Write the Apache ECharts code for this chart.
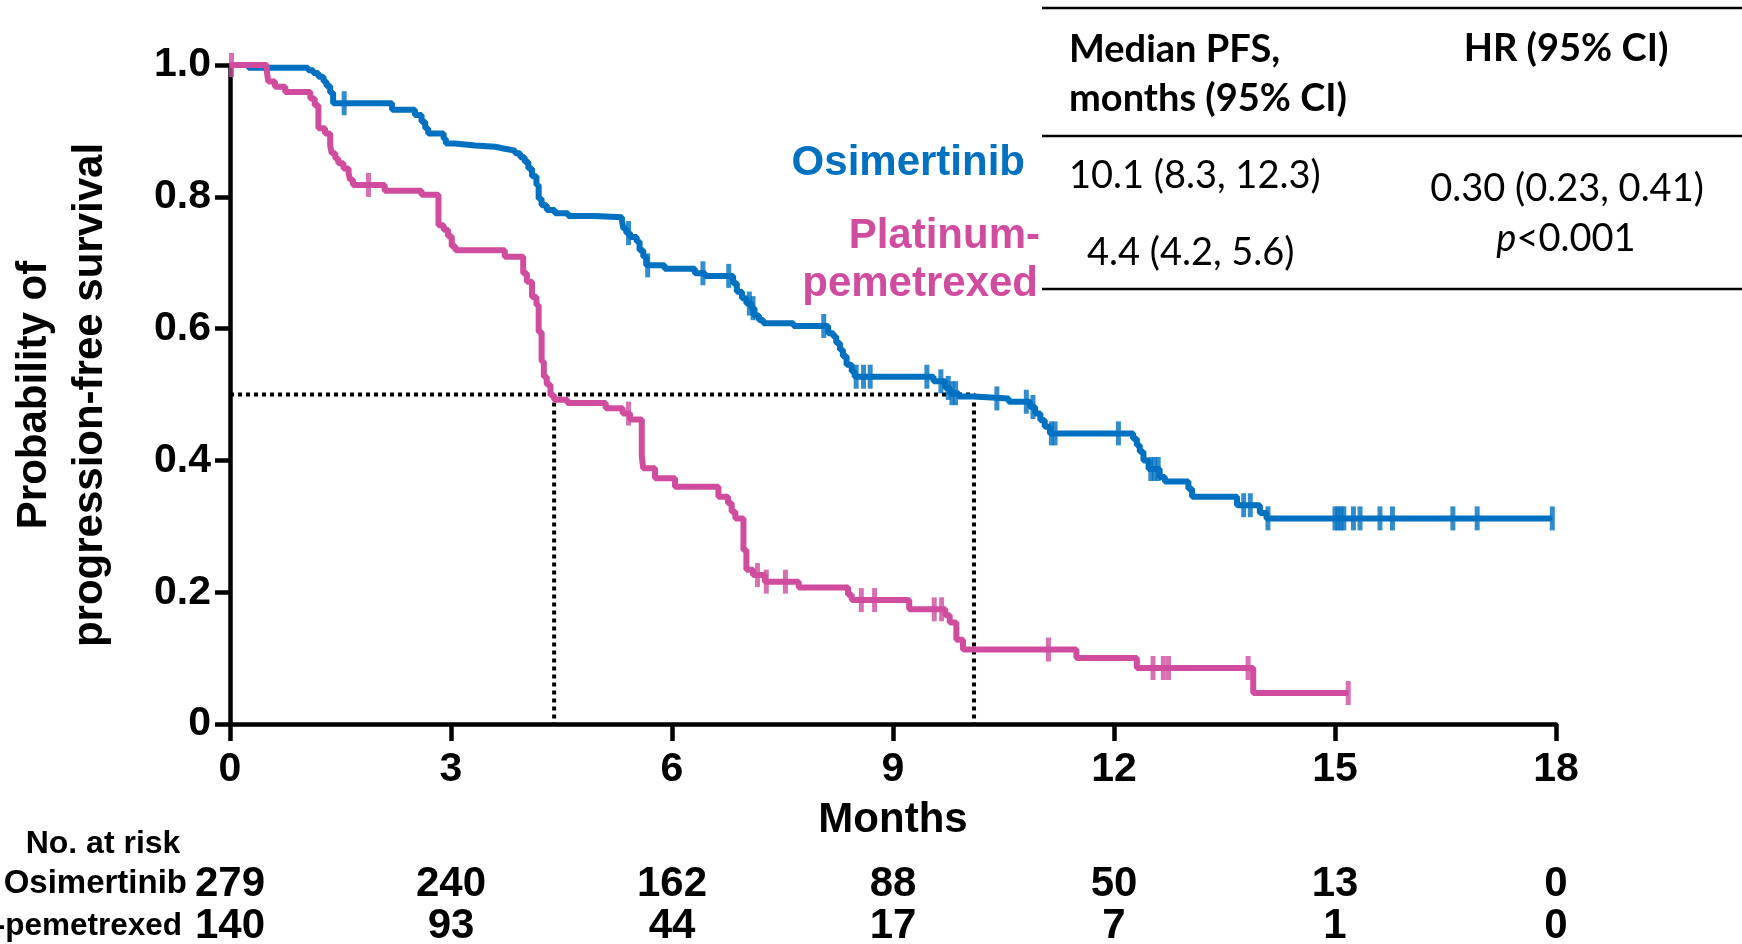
<!DOCTYPE html>
<html>
<head>
<meta charset="utf-8">
<title>Progression-free survival</title>
<script src="https://cdn.jsdelivr.net/npm/echarts@6/dist/echarts.min.js"></script>
<style>
  html, body { margin: 0; padding: 0; background: #fff; }
  #chart { width: 1742px; height: 944px; }
</style>
</head>
<body>
<div id="chart"></div>
<script>
// Kaplan-Meier step points [months, survival probability]
const osimertinibSteps = [
  [0, 1.0], [0.25, 0.996], [1.06, 0.992], [1.13, 0.988], [1.20, 0.982], [1.27, 0.975],
  [1.31, 0.968], [1.36, 0.958], [1.40, 0.942], [2.20, 0.932], [2.51, 0.924], [2.60, 0.914],
  [2.65, 0.904], [2.69, 0.896], [2.90, 0.888], [2.93, 0.881], [3.05, 0.878], [3.33, 0.876],
  [3.60, 0.873], [3.73, 0.870], [3.87, 0.866], [3.94, 0.860], [4.00, 0.853], [4.05, 0.843],
  [4.10, 0.831], [4.16, 0.818], [4.19, 0.797], [4.23, 0.787], [4.30, 0.780], [4.41, 0.775],
  [4.59, 0.771], [4.95, 0.769], [5.32, 0.764], [5.34, 0.752], [5.38, 0.745], [5.43, 0.739],
  [5.52, 0.732], [5.56, 0.719], [5.61, 0.709], [5.65, 0.696], [5.90, 0.691], [6.31, 0.684],
  [6.45, 0.680], [6.83, 0.669], [6.88, 0.656], [6.95, 0.646], [7.01, 0.638], [7.08, 0.631],
  [7.12, 0.620], [7.18, 0.613], [7.24, 0.608], [7.65, 0.604], [8.12, 0.593], [8.19, 0.588],
  [8.23, 0.578], [8.28, 0.568], [8.32, 0.558], [8.37, 0.545], [8.44, 0.535], [8.48, 0.527],
  [9.55, 0.520], [9.71, 0.510], [9.77, 0.502], [9.89, 0.497], [10.09, 0.494], [10.57, 0.489],
  [10.86, 0.481], [10.93, 0.471], [11.00, 0.461], [11.06, 0.451], [11.13, 0.441], [12.26, 0.433],
  [12.31, 0.423], [12.35, 0.413], [12.40, 0.400], [12.47, 0.387], [12.62, 0.375], [12.69, 0.368],
  [13.01, 0.357], [13.06, 0.345], [13.67, 0.332], [13.98, 0.320], [14.07, 0.312], [17.95, 0.312]
];
const osimertinibCensored = [
  1.55, 5.41, 5.67, 6.42, 6.77, 7.05, 7.10, 8.06, 8.50, 8.60, 8.69, 9.46, 9.65, 9.75, 9.80,
  9.85, 10.41, 10.81, 10.90, 11.15, 11.20, 12.06, 12.50, 12.55, 12.60, 13.76, 13.85, 14.09,
  15.00, 15.04, 15.08, 15.12, 15.25, 15.34, 15.61, 15.78, 16.60, 16.93, 17.95
];

const platinumSteps = [
  [0, 1.0], [0.50, 0.990], [0.52, 0.975], [0.61, 0.967], [0.75, 0.959], [1.09, 0.949],
  [1.15, 0.939], [1.20, 0.904], [1.29, 0.896], [1.36, 0.878], [1.38, 0.866], [1.43, 0.858],
  [1.47, 0.851], [1.54, 0.843], [1.61, 0.836], [1.63, 0.826], [1.67, 0.818], [2.10, 0.809],
  [2.60, 0.803], [2.83, 0.757], [2.90, 0.750], [2.96, 0.740], [3.01, 0.725], [3.06, 0.719],
  [3.73, 0.709], [3.98, 0.684], [4.03, 0.671], [4.10, 0.648], [4.16, 0.636], [4.19, 0.595],
  [4.23, 0.550], [4.26, 0.527], [4.30, 0.515], [4.35, 0.499], [4.40, 0.492], [4.58, 0.487],
  [5.10, 0.479], [5.33, 0.471], [5.43, 0.462], [5.59, 0.406], [5.61, 0.388], [5.77, 0.373],
  [6.04, 0.360], [6.63, 0.345], [6.76, 0.335], [6.81, 0.322], [6.86, 0.312], [6.97, 0.264],
  [7.01, 0.234], [7.10, 0.226], [7.26, 0.216], [7.72, 0.207], [8.39, 0.196], [8.44, 0.188],
  [9.22, 0.174], [9.71, 0.165], [9.77, 0.154], [9.86, 0.128], [9.95, 0.113], [11.49, 0.100],
  [12.31, 0.085], [13.89, 0.047], [15.18, 0.047]
];
const platinumCensored = [
  0.02, 1.88, 5.41, 7.16, 7.28, 7.54, 8.57, 8.75, 9.56, 9.66, 11.11, 12.53, 12.67, 12.74,
  13.82, 15.18
];

// Median PFS (months) and the survival level they are read at
const medianOsimertinib = 10.1;
const medianPlatinum = 4.4;
const medianLevel = 0.5;

// Number at risk at each x tick
const monthTicks = [0, 3, 6, 9, 12, 15, 18];
const atRiskOsimertinib = [279, 240, 162, 88, 50, 13, 0];
const atRiskPlatinum = [140, 93, 44, 17, 7, 1, 0];

// Summary table text
const tableHeaders = ['Median PFS,\nmonths (95% CI)', 'HR (95% CI)'];
const medianTexts = ['10.1 (8.3, 12.3)', '4.4 (4.2, 5.6)'];
const hazardText = '0.30 (0.23, 0.41)';

const BLUE = '#0070C0';
const PINK = '#D04C9F';
const SANS = '"Liberation Sans", Arial, Helvetica, sans-serif';
const TABLE_FONT = 'Lato, "Open Sans", sans-serif';

// survival value in effect at time t (right-continuous step function)
function survivalAt(steps, t) {
  let s = steps[0][1];
  for (const p of steps) { if (p[0] <= t) s = p[1]; else break; }
  return s;
}

const chart = echarts.init(document.getElementById('chart'), null, { renderer: 'canvas' });

const tickLabelStyle = { fontFamily: SANS, fontWeight: 'bold', fontSize: 41, color: '#000' };

function riskAxis(values, offset) {
  return {
    type: 'value', gridIndex: 0, position: 'bottom', offset: offset,
    min: 0, max: 18, interval: 3,
    axisLine: { show: false }, axisTick: { show: false }, splitLine: { show: false },
    axisLabel: Object.assign({}, tickLabelStyle, {
      fontSize: 42, margin: 0, verticalAlign: 'middle',
      showMinLabel: true, showMaxLabel: true,
      formatter: v => String(values[monthTicks.indexOf(v)])
    })
  };
}

const censorSymbol = { symbol: 'rect', symbolSize: [5, 24] };
const AXIS_WIDTH = 4.5;
const CURVE_WIDTH = 6;

const option = {
  backgroundColor: '#fff',
  animation: false,
  grid: { left: 230, right: 186, top: 65, bottom: 220, containLabel: false, outerBoundsMode: 'none' },
  xAxis: [
    {
      type: 'value', min: 0, max: 18, interval: 3,
      axisLine: { show: true, onZero: false, lineStyle: { color: '#000', width: AXIS_WIDTH } },
      axisTick: { show: true, length: 17, lineStyle: { color: '#000', width: AXIS_WIDTH } },
      splitLine: { show: false },
      axisLabel: Object.assign({}, tickLabelStyle, { margin: 46, verticalAlign: 'middle', showMinLabel: true, showMaxLabel: true }),
      name: 'Months', nameLocation: 'middle', nameGap: 96,
      nameTextStyle: { fontFamily: SANS, fontWeight: 'bold', fontSize: 42, color: '#000', verticalAlign: 'middle' }
    },
    riskAxis(atRiskOsimertinib, 160),
    riskAxis(atRiskPlatinum, 202)
  ],
  yAxis: {
    type: 'value', min: 0, max: 1, interval: 0.2,
    axisLine: { show: true, onZero: false, lineStyle: { color: '#000', width: AXIS_WIDTH } },
    axisTick: { show: true, length: 15, lineStyle: { color: '#000', width: AXIS_WIDTH } },
    splitLine: { show: false },
    axisLabel: Object.assign({}, tickLabelStyle, {
      margin: 19, showMinLabel: true, showMaxLabel: true,
      formatter: v => (v === 0 ? '0' : v.toFixed(1))
    })
  },
  series: [
    {
      name: 'median guide osimertinib', type: 'line', silent: true, showSymbol: false, z: 1,
      data: [[0, medianLevel], [medianOsimertinib, medianLevel], [medianOsimertinib, 0]],
      lineStyle: { color: '#000', width: 4, type: [4, 4] }
    },
    {
      name: 'median guide platinum', type: 'line', silent: true, showSymbol: false, z: 1,
      data: [[medianPlatinum, medianLevel], [medianPlatinum, 0]],
      lineStyle: { color: '#000', width: 4, type: [4, 4] }
    },
    {
      name: 'Osimertinib', type: 'line', step: 'end', showSymbol: false, z: 3,
      data: osimertinibSteps,
      lineStyle: { color: BLUE, width: CURVE_WIDTH }, itemStyle: { color: BLUE }
    },
    Object.assign({
      name: 'Osimertinib censored', type: 'scatter', z: 3,
      data: osimertinibCensored.map(t => [t, survivalAt(osimertinibSteps, t)]),
      itemStyle: { color: BLUE }
    }, censorSymbol),
    {
      name: 'Platinum-pemetrexed', type: 'line', step: 'end', showSymbol: false, z: 4,
      data: platinumSteps,
      lineStyle: { color: PINK, width: CURVE_WIDTH }, itemStyle: { color: PINK }
    },
    Object.assign({
      name: 'Platinum-pemetrexed censored', type: 'scatter', z: 4,
      data: platinumCensored.map(t => [t, survivalAt(platinumSteps, t)]),
      itemStyle: { color: PINK }
    }, censorSymbol)
  ],
  graphic: [
    // y-axis title
    {
      type: 'text', x: 62, y: 395, rotation: Math.PI / 2,
      style: {
        text: 'Probability of\nprogression-free survival',
        fontFamily: SANS, fontWeight: 'bold', fontSize: 42, lineHeight: 56,
        fill: '#000', align: 'center', verticalAlign: 'middle', textAlign: 'center', textVerticalAlign: 'middle'
      }
    },
    // series labels
    {
      type: 'text', x: 1025, y: 163,
      style: { text: 'Osimertinib', fontFamily: SANS, fontWeight: 'bold', fontSize: 42, fill: BLUE,
        align: 'right', verticalAlign: 'middle', textAlign: 'right', textVerticalAlign: 'middle' }
    },
    {
      type: 'text', x: 1040, y: 236,
      style: { text: 'Platinum-', fontFamily: SANS, fontWeight: 'bold', fontSize: 42, fill: PINK,
        align: 'right', verticalAlign: 'middle', textAlign: 'right', textVerticalAlign: 'middle' }
    },
    {
      type: 'text', x: 1038, y: 284,
      style: { text: 'pemetrexed', fontFamily: SANS, fontWeight: 'bold', fontSize: 42, fill: PINK,
        align: 'right', verticalAlign: 'middle', textAlign: 'right', textVerticalAlign: 'middle' }
    },
    // summary table rules
    { type: 'line', shape: { x1: 1042, y1: 8, x2: 1742, y2: 8 }, style: { stroke: '#000', lineWidth: 2.5 } },
    { type: 'line', shape: { x1: 1042, y1: 136, x2: 1742, y2: 136 }, style: { stroke: '#000', lineWidth: 2.5 } },
    { type: 'line', shape: { x1: 1042, y1: 289, x2: 1742, y2: 289 }, style: { stroke: '#000', lineWidth: 2.5 } },
    // table headers
    {
      type: 'text', x: 1069, y: 74,
      style: { text: tableHeaders[0], fontFamily: TABLE_FONT, fontWeight: 'bold', fontSize: 38, lineHeight: 49,
        fill: '#000', align: 'left', verticalAlign: 'middle', textAlign: 'left', textVerticalAlign: 'middle' }
    },
    {
      type: 'text', x: 1566, y: 49,
      style: { text: tableHeaders[1], fontFamily: TABLE_FONT, fontWeight: 'bold', fontSize: 38,
        fill: '#000', align: 'center', verticalAlign: 'middle', textAlign: 'center', textVerticalAlign: 'middle' }
    },
    // table body
    {
      type: 'text', x: 1069, y: 176,
      style: { text: medianTexts[0], fontFamily: TABLE_FONT, fontSize: 38,
        fill: '#000', align: 'left', verticalAlign: 'middle', textAlign: 'left', textVerticalAlign: 'middle' }
    },
    {
      type: 'text', x: 1087, y: 253,
      style: { text: medianTexts[1], fontFamily: TABLE_FONT, fontSize: 38,
        fill: '#000', align: 'left', verticalAlign: 'middle', textAlign: 'left', textVerticalAlign: 'middle' }
    },
    {
      type: 'text', x: 1567, y: 189,
      style: { text: hazardText, fontFamily: TABLE_FONT, fontSize: 38,
        fill: '#000', align: 'center', verticalAlign: 'middle', textAlign: 'center', textVerticalAlign: 'middle' }
    },
    {
      type: 'text', x: 1566, y: 239,
      style: {
        text: '{i|p}<0.001', fontFamily: TABLE_FONT, fontSize: 38, fill: '#000',
        align: 'center', verticalAlign: 'middle', textAlign: 'center', textVerticalAlign: 'middle',
        rich: { i: { fontFamily: TABLE_FONT, fontSize: 38, fontStyle: 'italic', fill: '#000' } }
      }
    },
    // number-at-risk row titles
    {
      type: 'text', x: 103, y: 844,
      style: { text: 'No. at risk', fontFamily: SANS, fontWeight: 'bold', fontSize: 32, fill: '#000',
        align: 'center', verticalAlign: 'middle', textAlign: 'center', textVerticalAlign: 'middle' }
    },
    {
      type: 'text', x: 187, y: 884,
      style: { text: 'Osimertinib', fontFamily: SANS, fontWeight: 'bold', fontSize: 33, fill: '#000',
        align: 'right', verticalAlign: 'middle', textAlign: 'right', textVerticalAlign: 'middle' }
    },
    {
      type: 'text', x: 182, y: 926,
      style: { text: 'Platinum-pemetrexed', fontFamily: SANS, fontWeight: 'bold', fontSize: 31.5, fill: '#000',
        align: 'right', verticalAlign: 'middle', textAlign: 'right', textVerticalAlign: 'middle' }
    }
  ]
};

chart.setOption(option);
</script>
</body>
</html>
